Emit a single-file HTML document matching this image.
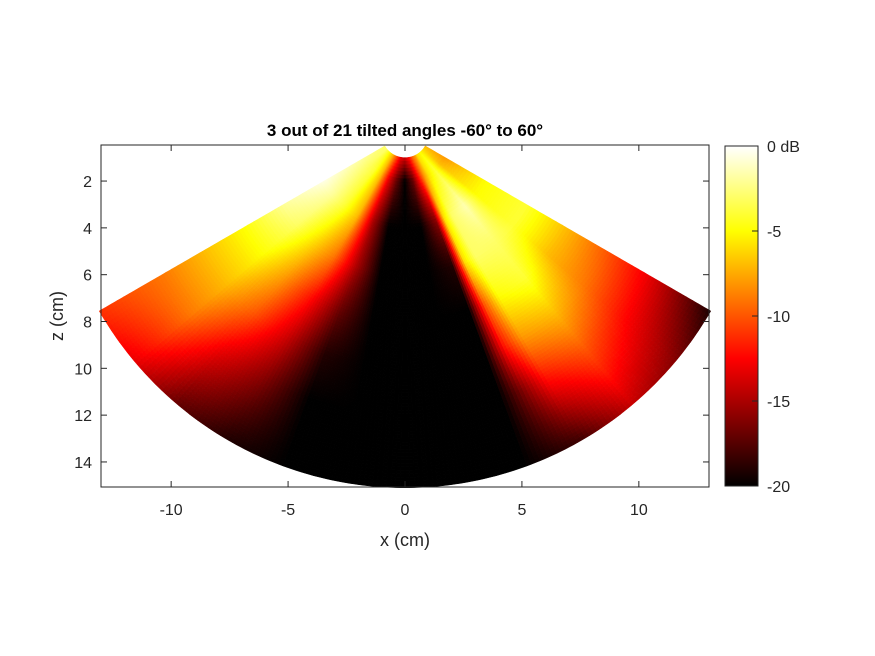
<!DOCTYPE html>
<html><head><meta charset="utf-8"><style>
body{margin:0;background:#fff}
svg{display:block;font-family:"Liberation Sans",Arial,sans-serif}
</style></head><body>
<svg id="fig" width="875" height="656" viewBox="0 0 875 656">
<rect x="0" y="0" width="875" height="656" fill="#fff"/>
<g id="img"></g>
<g id="axes"></g>
<text x="405" y="136" text-anchor="middle" font-size="17" font-weight="bold" fill="#000">3 out of 21 tilted angles -60° to 60°</text>
<text x="405" y="546" text-anchor="middle" font-size="18" fill="#262626">x (cm)</text>
<text transform="translate(63,316) rotate(-90)" text-anchor="middle" font-size="18" fill="#262626">z (cm)</text>
<defs><linearGradient id="hotg" x1="0" y1="1" x2="0" y2="0">
<stop offset="0" stop-color="#000"/><stop offset="0.375" stop-color="#f00"/><stop offset="0.75" stop-color="#ff0"/><stop offset="1" stop-color="#fff"/>
</linearGradient></defs>
<rect x="725" y="146" width="33" height="340" fill="url(#hotg)" stroke="#262626" stroke-width="1"/>
<g id="cbt"></g>
</svg>
<script>
const angles = [-60,-50,-40,-30,-20,-10,0,10,20,25,30,40,50,60];
const radii = [1,2,4,6,8,10,12,15];
const dbM60 = [-3,-2,-0.5,-2,-5,-7,-9,-11];
const dbM50 = [-3,-3,-2,-3,-5,-7,-9,-13];
const dbM40 = [-5,-4,-4,-6,-8,-10,-13,-17];
const dbM30 = [-7,-7,-7,-9,-12,-14,-16,-19];
const dbM20 = [-10,-13,-15,-15,-17,-19,-20,-20];
const dbM10 = [-13,-17,-20,-20,-20,-20,-20,-20];
const db0 = [-14,-20,-20,-20,-20,-20,-20,-20];
const dbP10 = [-12,-17,-20,-20,-20,-20,-20,-20];
const dbP20 = [-9,-11,-16,-19,-20,-20,-20,-20];
const dbP25 = [-8,-8,-6,-6,-10,-12,-16,-19];
const dbP30 = [-6,-6,-3,-3,-5,-8,-12,-18];
const dbP40 = [-5,-4,-1.5,-3,-4,-7,-10,-14];
const dbP50 = [-6,-7,-5,-4,-7,-9,-12,-16];
const dbP60 = [-7,-8,-5,-4,-7,-10,-13,-19];
const xTicks = [-10,-5,0,5,10];
const zTicks = [2,4,6,8,10,12,14];
const cbTicks = [0,-5,-10,-15,-20];
const cbLabels = ['0 dB','-5','-10','-15','-20'];
const rows = [dbM60,dbM50,dbM40,dbM30,dbM20,dbM10,db0,dbP10,dbP20,dbP25,dbP30,dbP40,dbP50,dbP60];

const NS='http://www.w3.org/2000/svg';
const L=101,R=709,T=145,B=487, xmin=-13,xmax=13,zmin=0.46,zmax=15.07;
const sx=x=>L+(x-xmin)/(xmax-xmin)*(R-L);
const sz=z=>T+(z-zmin)/(zmax-zmin)*(B-T);
const cbY=d=>146+(0-d)/20*340;
function hot(d){let t=Math.max(0,Math.min(1,(d+20)/20));
 let r=Math.min(1,t/0.375),g=Math.max(0,Math.min(1,(t-0.375)/0.375)),b=Math.max(0,Math.min(1,(t-0.75)/0.25));
 return `rgb(${Math.round(r*255)},${Math.round(g*255)},${Math.round(b*255)})`;}
function idx(arr,v){for(let i=0;i<arr.length-1;i++) if(v<=arr[i+1]) return i; return arr.length-2;}
function val(th,r){const i=idx(angles,th),j=idx(radii,r);
 const u=(th-angles[i])/(angles[i+1]-angles[i]),w=(r-radii[j])/(radii[j+1]-radii[j]);
 return (1-u)*(1-w)*rows[i][j]+u*(1-w)*rows[i+1][j]+(1-u)*w*rows[i][j+1]+u*w*rows[i+1][j+1];}
const img=document.getElementById('img');
const dth=0.75, dr=0.15;
function pt(th,r){const a=th*Math.PI/180;return sx(r*Math.sin(a)).toFixed(1)+','+sz(r*Math.cos(a)).toFixed(1);}
for(let th=angles[0];th<angles[angles.length-1]-1e-6;th+=dth){
 for(let r=radii[0];r<radii[radii.length-1]-1e-6;r+=dr){
  const c=hot(val(th+dth/2,r+dr/2));
  const p=document.createElementNS(NS,'polygon');
  p.setAttribute('points',[pt(th,r),pt(th+dth,r),pt(th+dth,r+dr),pt(th,r+dr)].join(' '));
  p.setAttribute('fill',c);p.setAttribute('stroke',c);p.setAttribute('stroke-width','0.5');
  
  
  img.appendChild(p);
 }
}
const ax=document.getElementById('axes');
function add(par,tag,attrs,text){const e=document.createElementNS(NS,tag);for(const k in attrs)e.setAttribute(k,attrs[k]);if(text!==undefined)e.textContent=text;par.appendChild(e);return e;}
const box=add(ax,'rect',{x:L,y:T,width:R-L,height:B-T,fill:'none',stroke:'#262626','stroke-width':1});


xTicks.forEach(v=>{const x=sx(v);
 const t1=add(ax,'line',{x1:x,y1:B,x2:x,y2:B-6,stroke:'#262626'});
 
 
 const t2=add(ax,'line',{x1:x,y1:T,x2:x,y2:T+6,stroke:'#262626'});
 
 
 const lb=add(ax,'text',{x:x,y:B+28,'text-anchor':'middle','font-size':16,fill:'#262626'},String(v));
 
 
});
zTicks.forEach(v=>{const y=sz(v);
 const t1=add(ax,'line',{x1:L,y1:y,x2:L+6,y2:y,stroke:'#262626'});
 
 
 const t2=add(ax,'line',{x1:R,y1:y,x2:R-6,y2:y,stroke:'#262626'});
 
 
 const lb=add(ax,'text',{x:L-9,y:y+6,'text-anchor':'end','font-size':16,fill:'#262626'},String(v));
 
 
});
const cbt=document.getElementById('cbt');
cbTicks.forEach((v,i)=>{const y=cbY(v);
 const t=add(cbt,'line',{x1:752,y1:y,x2:758,y2:y,stroke:'#262626'});
 
 
 const lb=add(cbt,'text',{x:767,y:y+6,'font-size':16,fill:'#262626'},cbLabels[i]);
 
 
});
</script>
</body></html>
